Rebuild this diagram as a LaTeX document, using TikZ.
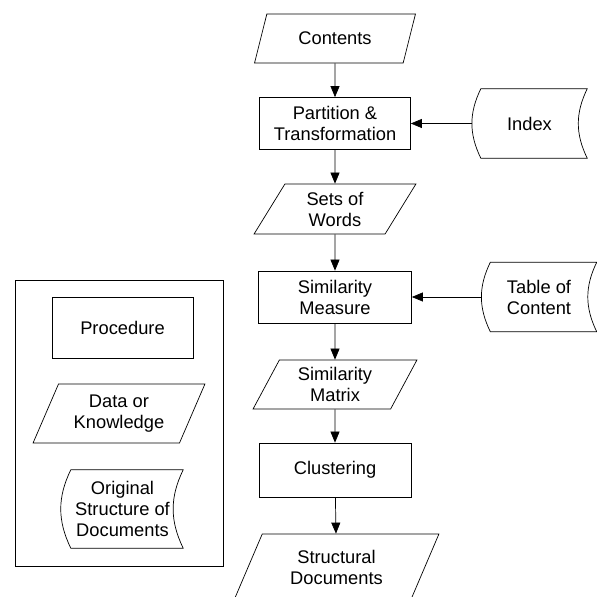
\documentclass[tikz,border=0pt]{standalone}
\usepackage{fontspec}
\setmainfont{Liberation Sans}
\usetikzlibrary{arrows.meta,shapes.geometric}

% outline of a stored-data node: both sides bent to the left
\newcommand{\storeoutline}[1]{%
  \draw[flowline] ([xshift=9pt]#1.north west) to[bend right=26] ([xshift=9pt]#1.south west)
    -- (#1.south east) to[bend left=26] (#1.north east) -- cycle;}

\begin{document}
\begin{tikzpicture}[x=1pt,y=1pt,
  font=\fontsize{18.3}{21}\selectfont,
  >={Triangle[length=11pt,width=9pt]},
  flowline/.style={line width=0.7pt},
  procbox/.style={draw, line width=0.7pt, rectangle, align=center, inner sep=0pt},
  datanode/.style={draw, line width=0.7pt, trapezium, trapezium left angle=63,
    trapezium right angle=117, trapezium stretches=true, align=center, inner sep=0pt},
  storenode/.style={align=center, inner sep=0pt, minimum width=115pt, minimum height=69pt}]

\useasboundingbox (0,0) rectangle (597,597);
\clip (0,0) rectangle (597,597);

% Legend
\node[draw, line width=0.7pt, minimum width=208pt, minimum height=286pt] (legend) at (119,174) {};
\node[procbox, minimum width=141pt, minimum height=61pt] (procedure) at (122.5,269.5) {Procedure};
\node[datanode, minimum width=172pt, minimum height=59pt] (knowledge) at (119,183.5) {Data or\\Knowledge};
\node[storenode, minimum width=121pt, minimum height=78pt] (original) at (122.5,88) {Original\\Structure of\\Documents};
\storeoutline{original}

% Main flow
\node[datanode, minimum width=162pt, minimum height=49pt] (contents) at (335,558.5) {Contents};
\node[procbox, minimum width=151pt, minimum height=52pt] (partition) at (335,473.5) {Partition \&\\Transformation};
\node[datanode, minimum width=163pt, minimum height=50pt] (words) at (335,388) {Sets of\\Words};
\node[procbox, minimum width=153pt, minimum height=52pt] (measure) at (335,300) {Similarity\\Measure};
\node[datanode, minimum width=164pt, minimum height=49pt] (matrix) at (335,212.5) {Similarity\\Matrix};
\node[procbox, minimum width=152pt, minimum height=54pt] (clustering) at (335,127) {Clustering};
\node[datanode, minimum width=205pt, minimum height=66pt] (structural) at (336.5,30) {Structural\\Documents};

% Original structure of documents
\node[storenode] (index) at (529.5,473.5) {Index};
\storeoutline{index}
\node[storenode] (toc) at (539,300) {Table of\\Content};
\storeoutline{toc}

\draw[flowline,->] (contents) -- (partition);
\draw[flowline,->] (partition) -- (words);
\draw[flowline,->] (words) -- (measure);
\draw[flowline,->] (measure) -- (matrix);
\draw[flowline,->] (matrix) -- (clustering);
\draw[flowline,->] (clustering) -- (structural);
\draw[flowline,->] (index) -- (partition);
\draw[flowline,->] (toc) -- (measure);

\end{tikzpicture}
\end{document}
